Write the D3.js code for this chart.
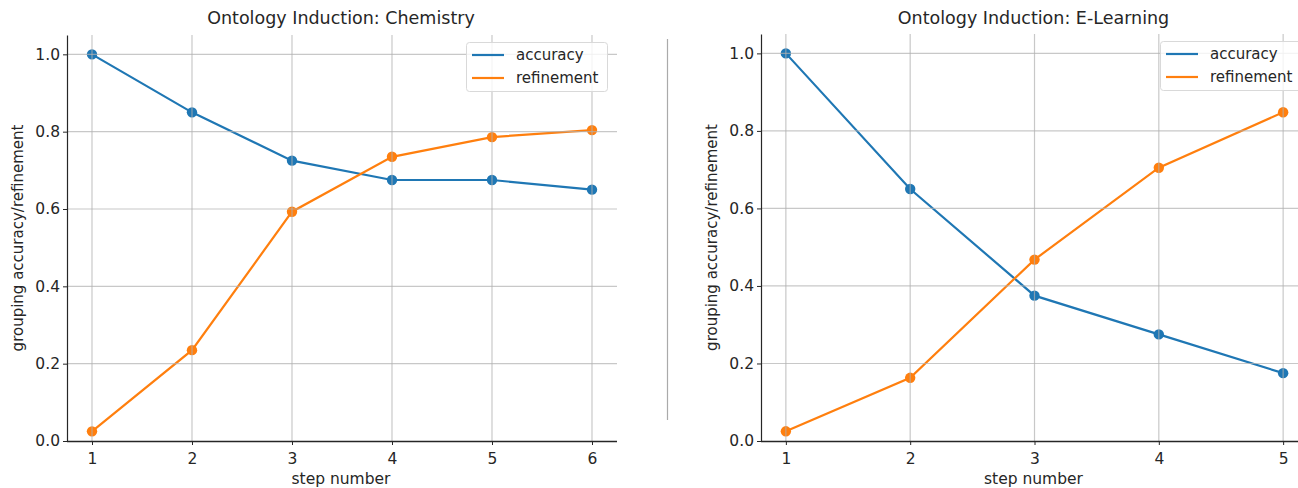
<!DOCTYPE html>
<html>
<head>
<meta charset="utf-8">
<script src="https://cdn.jsdelivr.net/npm/d3@7"></script>
<style>
  body { margin: 0; background: #fff; }
  svg { display: block; }
  text { font-family: "DejaVu Sans", sans-serif; fill: #262626; }
</style>
</head>
<body>
<svg id="chart" width="1298" height="488"></svg>
<script>
// ---- data ----
const chemSteps = [1, 2, 3, 4, 5, 6];
const chemAccuracy = [1.0, 0.85, 0.725, 0.675, 0.675, 0.65];
const chemRefinement = [0.025, 0.235, 0.593, 0.735, 0.786, 0.804];

const elSteps = [1, 2, 3, 4, 5];
const elAccuracy = [1.0, 0.65, 0.375, 0.275, 0.175];
const elRefinement = [0.025, 0.163, 0.468, 0.705, 0.848];

const yTicks = [0.0, 0.2, 0.4, 0.6, 0.8, 1.0];
const seriesNames = ["accuracy", "refinement"];
const titles = ["Ontology Induction: Chemistry", "Ontology Induction: E-Learning"];
const colors = ["#1f77b4", "#ff7f0e"];

const svg = d3.select("#chart");

function panel(opts) {
  const { steps, acc, ref, title, left, right, top, bottom, clipRight, legend } = opts;
  const g = svg.append("g");
  const xDom = [steps[0] - 0.05 * (steps[steps.length - 1] - steps[0]),
                steps[steps.length - 1] + 0.05 * (steps[steps.length - 1] - steps[0])];
  const x = d3.scaleLinear().domain(xDom).range([left, right]);
  const y = d3.scaleLinear().domain([0, 1.05]).range([bottom, top]);
  const gridRight = Math.min(right, clipRight);

  // series
  const line = d3.line().x((d, i) => x(steps[i])).y(d => y(d));
  [acc, ref].forEach((vals, k) => {
    g.append("path").datum(vals)
      .attr("fill", "none").attr("stroke", colors[k]).attr("stroke-width", 2.2)
      .attr("d", line);
    g.selectAll(null).data(vals).enter().append("circle")
      .attr("cx", (d, i) => x(steps[i])).attr("cy", d => y(d))
      .attr("r", 5.2).attr("fill", colors[k]);
  });

  // grid (drawn over marks, translucent)
  g.append("g").selectAll("line").data(steps).enter().append("line")
    .attr("x1", d => x(d)).attr("x2", d => x(d))
    .attr("y1", top).attr("y2", bottom)
    .attr("stroke", "#b0b0b0").attr("stroke-opacity", 0.7).attr("stroke-width", 1.2);
  g.append("g").selectAll("line").data(yTicks.slice(1)).enter().append("line")
    .attr("x1", left).attr("x2", gridRight)
    .attr("y1", d => y(d)).attr("y2", d => y(d))
    .attr("stroke", "#b0b0b0").attr("stroke-opacity", 0.7).attr("stroke-width", 1.2);

  // axes
  const xAxis = d3.axisBottom(x).tickValues(steps).tickFormat(d3.format("d")).tickSize(4).tickSizeOuter(0);
  const gx = g.append("g").attr("transform", `translate(0,${bottom})`).call(xAxis);
  gx.select(".domain").attr("d", `M${left},0.5H${gridRight}`).attr("stroke", "#262626").attr("stroke-width", 1.4);
  gx.selectAll(".tick line").attr("stroke", "#262626");
  gx.selectAll(".tick text").attr("font-size", 15.5).attr("dy", "1.0em")
    .style("font-family", '"DejaVu Sans", sans-serif').attr("fill", "#262626");

  const yAxis = d3.axisLeft(y).tickValues(yTicks).tickFormat(d3.format(".1f")).tickSize(4).tickSizeOuter(0);
  const gy = g.append("g").attr("transform", `translate(${left},0)`).call(yAxis);
  gy.select(".domain").attr("stroke", "#262626").attr("stroke-width", 1.2);
  gy.selectAll(".tick line").attr("stroke", "#262626");
  gy.selectAll(".tick text").attr("font-size", 15.5).attr("x", -7)
    .style("font-family", '"DejaVu Sans", sans-serif').attr("fill", "#262626");

  // labels
  g.append("text").attr("x", (left + right) / 2 - 1).attr("y", 24)
    .attr("text-anchor", "middle").attr("font-size", 17.5).text(title);
  g.append("text").attr("x", (left + right) / 2 - 1).attr("y", 484)
    .attr("text-anchor", "middle").attr("font-size", 15.5).text("step number");
  g.append("text")
    .attr("transform", `translate(${left - 44},${(top + bottom) / 2}) rotate(-90)`)
    .attr("text-anchor", "middle").attr("font-size", 15).text("grouping accuracy/refinement");

  // legend
  const lg = g.append("g").attr("transform", `translate(${legend.x},${legend.y})`);
  lg.append("rect").attr("x", 0.5).attr("y", 0.5).attr("width", legend.w).attr("height", 49)
    .attr("rx", 3).attr("fill", "#fff").attr("fill-opacity", 0.8)
    .attr("stroke", "#d9d9d9").attr("stroke-width", 1);
  seriesNames.forEach((name, k) => {
    const yy = 13 + k * 23;
    lg.append("line").attr("x1", 6).attr("x2", 38).attr("y1", yy).attr("y2", yy)
      .attr("stroke", colors[k]).attr("stroke-width", 2.2);
    lg.append("text").attr("x", 50).attr("y", yy + 5).attr("font-size", 15).text(name);
  });
}

panel({ steps: chemSteps, acc: chemAccuracy, ref: chemRefinement, title: titles[0],
        left: 67, right: 617, top: 35, bottom: 441, clipRight: 1298,
        legend: { x: 466, y: 42, w: 141 } });
panel({ steps: elSteps, acc: elAccuracy, ref: elRefinement, title: titles[1],
        left: 761, right: 1308, top: 34, bottom: 441, clipRight: 1298,
        legend: { x: 1160, y: 41, w: 150 } });

// divider between the two panels
svg.append("line").attr("x1", 667.5).attr("x2", 667.5).attr("y1", 39).attr("y2", 420)
  .attr("stroke", "#aaaaaa").attr("stroke-width", 1.2);
</script>
</body>
</html>
